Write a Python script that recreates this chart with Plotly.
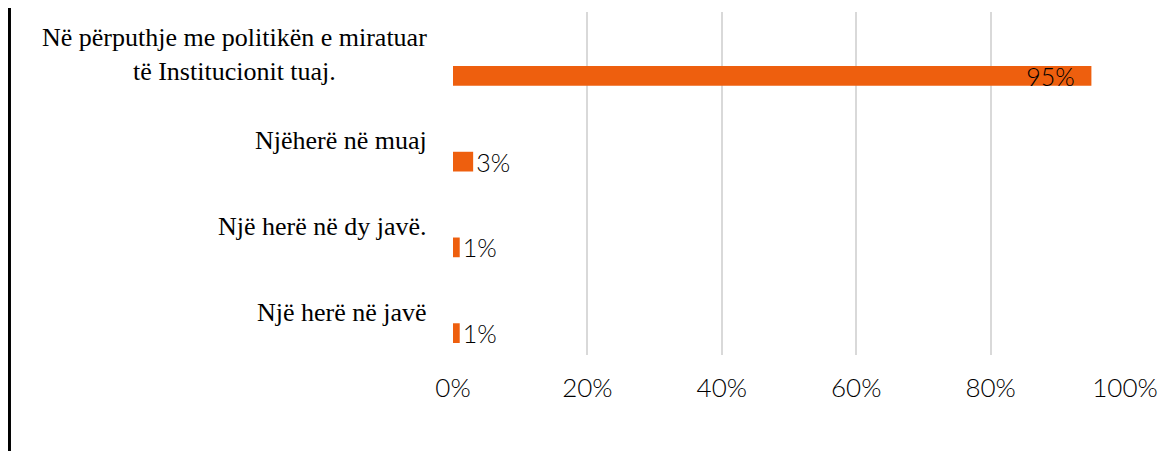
import plotly.graph_objects as go

categories = [
    "Në përputhje me politikën e miratuar<br>të Institucionit tuaj.",
    "Njëherë në muaj",
    "Një herë në dy javë.",
    "Një herë në javë",
]
values = [0.95, 0.03, 0.01, 0.01]
value_labels = ["95%", "3%", "1%", "1%"]
x_ticks = [0, 0.2, 0.4, 0.6, 0.8, 1.0]
x_tick_labels = ["0%", "20%", "40%", "60%", "80%", "100%"]

num_font = "Lato, 'DejaVu Sans', sans-serif"
serif_font = "'Liberation Serif', 'Times New Roman', serif"

fig = go.Figure()
fig.add_trace(go.Bar(
    x=values, y=categories, orientation="h",
    width=0.23, offset=0.13,
    marker=dict(color="#EE5F0E", line=dict(width=0)),
    text=value_labels,
    texttemplate=["%{text}\u00a0\u00a0", "%{text}", "%{text}", "%{text}"],
    textposition=["inside", "outside", "outside", "outside"],
    insidetextanchor="end",
    constraintext="none",
    textfont=dict(family=num_font, size=25, color="#000000", weight=300),
    cliponaxis=False,
    hoverinfo="skip",
))

# category labels as centred annotations
for cat in categories:
    fig.add_annotation(
        x=0, xref="paper", y=cat, yref="y",
        text=cat, showarrow=False, xanchor="right", yanchor="middle",
        align="center", xshift=-24,
        font=dict(family=serif_font, size=26, color="#000000"),
    )

# black rule on the left edge
fig.add_shape(type="line", xref="paper", yref="paper",
              x0=-0.66, x1=-0.66, y0=-0.35, y1=1.05,
              line=dict(color="#000000", width=3))

fig.update_layout(
    width=1166, height=451,
    margin=dict(l=445, r=49, t=4, b=104),
    paper_bgcolor="white", plot_bgcolor="white",
    showlegend=False,
    bargap=0.5,
)
fig.update_xaxes(
    range=[0, 1], tickvals=x_ticks, ticktext=x_tick_labels,
    showgrid=True, gridcolor="#d9d9d9", gridwidth=2,
    zeroline=False, showline=False, ticks="",
    ticklabelstandoff=15,
    tickfont=dict(family=num_font, size=26, color="#000000", weight=300),
)
fig.update_yaxes(
    autorange="reversed", showticklabels=False, showgrid=False,
    zeroline=False, showline=False, ticks="",
)

fig.write_html("out.html")
